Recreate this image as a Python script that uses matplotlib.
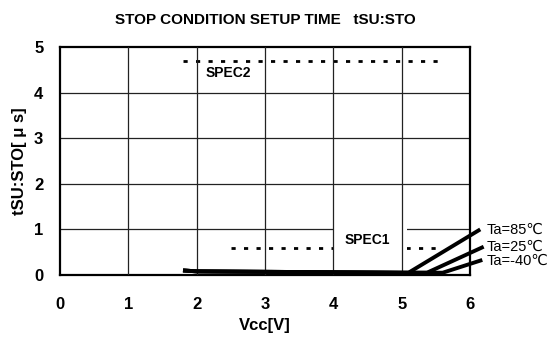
import matplotlib
matplotlib.use("Agg")
import matplotlib.pyplot as plt
from matplotlib.patches import Rectangle

# ---- data ----
title = "STOP CONDITION SETUP TIME   tSU:STO"
xlabel = "Vcc[V]"
ylabel = "tSU:STO[ \u03bc s]"
xticks = [0, 1, 2, 3, 4, 5, 6]
yticks = [0, 1, 2, 3, 4, 5]

spec2_x = [1.8, 5.55]
spec2_y = [4.7, 4.7]
spec1_x = [2.5, 5.55]
spec1_y = [0.6, 0.6]

ta85_x = [1.8, 2.0, 3.0, 4.0, 5.1, 6.15]
ta85_y = [0.1, 0.08, 0.07, 0.06, 0.05, 1.0]
ta25_x = [1.8, 2.0, 3.0, 4.0, 5.0, 5.37, 6.2]
ta25_y = [0.1, 0.08, 0.07, 0.06, 0.05, 0.05, 0.62]
tam40_x = [1.8, 2.0, 3.0, 4.0, 5.0, 5.6, 6.18]
tam40_y = [0.1, 0.08, 0.07, 0.06, 0.05, 0.05, 0.33]

labels = ["Ta=85\u2103", "Ta=25\u2103", "Ta=-40\u2103"]
label_y = [1.0, 0.62, 0.3]

plt.rcParams['font.family'] = ['Liberation Sans', 'DejaVu Sans']

fig = plt.figure(figsize=(5.52, 3.45), dpi=100)
ax = fig.add_axes([60/552, 1-275/345, 410/552, 228/345])
ax.set_xlim(0, 6)
ax.set_ylim(0, 5)
ax.set_xticks(xticks)
ax.set_yticks(yticks)
ax.tick_params(length=0, labelsize=12)
ax.tick_params(axis='x', pad=16)
ax.tick_params(axis='y', pad=12)
for lab in ax.get_xticklabels() + ax.get_yticklabels():
    lab.set_fontweight('bold')
for s in ax.spines.values():
    s.set_linewidth(1.6)
    s.set_color('black')

# grid
for yv in yticks[1:-1]:
    ax.axhline(yv, color='#222222', lw=0.9, zorder=1)
for xv in xticks[1:-1]:
    ax.axvline(xv, color='#222222', lw=0.9, zorder=4)

# spec lines
ax.plot(spec2_x, spec2_y, color='black', lw=2, ls=(0, (1.5, 3)), zorder=2)
ax.plot(spec1_x, spec1_y, color='black', lw=2, ls=(0, (1.5, 3)), zorder=2)

# white box around SPEC1 label
ax.add_patch(Rectangle((4.0, 0.45), 1.08, 0.6, facecolor='white',
                       edgecolor='none', zorder=3))
ax.text(2.13, 4.43, "SPEC2", fontsize=10, fontweight='bold', va='center',
        zorder=5)
ax.text(4.17, 0.77, "SPEC1", fontsize=10, fontweight='bold', va='center',
        zorder=5)

# data
for xs, ys in [(ta85_x, ta85_y), (ta25_x, ta25_y), (tam40_x, tam40_y)]:
    ax.plot(xs, ys, color='black', lw=2.8, clip_on=False, zorder=6,
            solid_capstyle='butt')

for lab, yv in zip(labels, label_y):
    ax.text(6.25, yv, lab, fontsize=10.5, va='center', ha='left',
            clip_on=False)

ax.set_xlabel(xlabel, fontsize=12, fontweight='bold', labelpad=4)
ax.set_ylabel(ylabel, fontsize=12, fontweight='bold', labelpad=5)

fig.text(265/552, 1-20/345, title, fontsize=11, fontweight='bold',
         ha='center', va='center')

fig.savefig("out.png", dpi=100)
